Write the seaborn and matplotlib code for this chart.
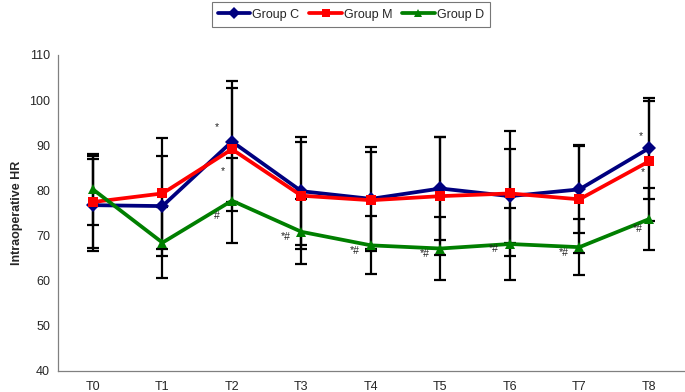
import matplotlib
matplotlib.use("Agg")
import matplotlib.pyplot as plt
import seaborn as sns
import numpy as np
import pandas as pd

# ---- data ----
times = ['T0', 'T1', 'T2', 'T3', 'T4', 'T5', 'T6', 'T7', 'T8']
groups = ['Group C', 'Group M', 'Group D']

hr_c = [76.7, 76.5, 90.8, 79.8, 78.1, 80.4, 78.7, 80.2, 89.3]
hr_m = [77.4, 79.3, 89.1, 78.8, 77.8, 78.7, 79.3, 78.0, 86.4]
hr_d = [80.2, 68.4, 77.7, 70.8, 67.8, 67.1, 68.1, 67.4, 73.6]

sd_c = [10.2, 11.1, 13.5, 12.0, 11.6, 11.5, 10.4, 9.7, 11.2]
sd_m = [10.1, 12.3, 13.6, 11.9, 10.7, 13.0, 13.9, 12.0, 13.3]
sd_d = [7.9, 7.9, 9.4, 7.2, 6.4, 6.9, 7.9, 6.2, 6.8]

# significance marks: (time, group, text)
marks = [('T2', 'Group C', '*'), ('T2', 'Group M', '*'), ('T2', 'Group D', '#'),
         ('T3', 'Group D', '*#'), ('T4', 'Group D', '*#'), ('T5', 'Group D', '*#'),
         ('T6', 'Group D', '*#'), ('T7', 'Group D', '*#'),
         ('T8', 'Group C', '*'), ('T8', 'Group M', '*'), ('T8', 'Group D', '*#')]

colors = {'Group C': '#00007f', 'Group M': '#ff0000', 'Group D': '#007f00'}
markers = {'Group C': 'D', 'Group M': 's', 'Group D': '^'}

# ---- build long table ----
df = pd.DataFrame({
    'time': times * 3,
    'group': np.repeat(groups, len(times)),
    'hr': hr_c + hr_m + hr_d,
    'sd': sd_c + sd_m + sd_d,
})

sns.set_style('white')
plt.rcParams['font.family'] = ['Liberation Sans', 'DejaVu Sans']

fig = plt.figure(figsize=(6.85, 3.92), dpi=100)
ax = fig.add_axes([0.085, 0.054, 0.913, 0.806])

# error bars underneath
for g in groups:
    sub = df[df['group'] == g]
    ax.errorbar(sub['time'], sub['hr'], yerr=sub['sd'], fmt='none', ecolor='black',
                elinewidth=1.6, capsize=4, capthick=1.6, zorder=2)

p = sns.lineplot(data=df, x='time', y='hr', hue='group', style='group', hue_order=groups,
                 style_order=groups, palette=colors, markers=markers, dashes=False,
                 linewidth=2.7, markersize=7.5, markeredgewidth=0, ax=ax, zorder=3,
                 sort=False, legend='brief')

# significance labels
pos = {t: i for i, t in enumerate(times)}
offsets = {('T2', 'Group C'): (-0.22, 3.1), ('T2', 'Group M'): (-0.13, -4.8),
           ('T2', 'Group D'): (-0.22, -3.4), ('T8', 'Group C'): (-0.12, 2.6),
           ('T8', 'Group M'): (-0.09, -2.3), ('T8', 'Group D'): (-0.16, -2.1)}
for t, g, txt in marks:
    y0 = df[(df['time'] == t) & (df['group'] == g)]['hr'].values[0]
    dx, dy = offsets.get((t, g), (-0.23, -1.2))
    ax.text(pos[t] + dx, y0 + dy, txt, fontsize=7.5, ha='center', va='center', color='#222222')

p.set_xlim(-0.5, 8.5)
p.set_ylim(40, 110)
p.set_yticks(np.arange(40, 111, 10))
p.set_xlabel('')
p.set_ylabel('Intraoperative HR', fontsize=9, fontweight='bold', labelpad=4)

ax.set_xticks(range(len(times)))
ax.set_xticklabels(times)
ax.set_xticks(np.arange(-0.5, 9, 1), minor=True)
ax.tick_params(axis='x', which='major', length=0, labelsize=9, pad=7)
ax.tick_params(axis='x', which='minor', length=4, width=0.8, color='#808080', direction='out')
ax.tick_params(axis='y', length=4, width=0.8, color='#808080', direction='out', labelsize=9, pad=2)

for s in ['top', 'right']:
    ax.spines[s].set_visible(False)
for s in ['left', 'bottom']:
    ax.spines[s].set_color('#808080')
    ax.spines[s].set_linewidth(0.9)

leg = ax.legend(loc='center', bbox_to_anchor=(0.512, 0.963), bbox_transform=fig.transFigure,
                ncol=3, frameon=True, fancybox=False, fontsize=9, handlelength=2.6,
                handletextpad=0.15, columnspacing=0.8, borderpad=0.5, markerscale=0.8)
leg.get_frame().set_edgecolor('#555555')
leg.get_frame().set_linewidth(0.8)

plt.savefig('out.png', dpi=100)
